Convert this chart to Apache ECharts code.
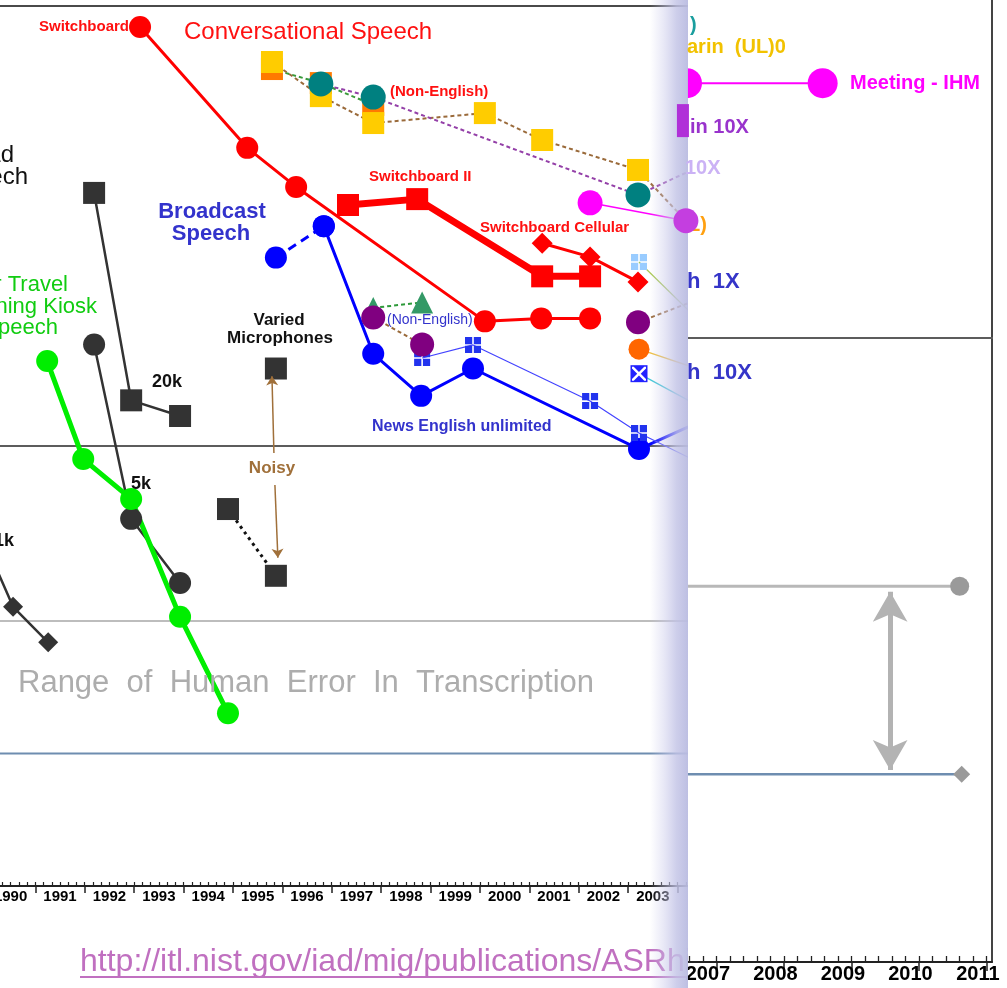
<!DOCTYPE html>
<html>
<head>
<meta charset="utf-8">
<script src="https://cdn.jsdelivr.net/npm/echarts@6/dist/echarts.min.js"></script>
<style>
  html, body { margin: 0; padding: 0; background: #fff; }
  #chart { width: 1007px; height: 988px; }
</style>
</head>
<body>
<div id="chart"></div>
<script>
// ---------- Left panel: word error rate (%) per benchmark, 1990-2004 ----------
const readSpeech20k = [[1992.19, 37.6], [1992.94, 12.7], [1993.93, 11.7]];
const readSpeech5k  = [[1992.19, 17.0], [1992.94, 6.83], [1993.93, 4.88]];
const readSpeech1k  = [[1989.58, 7.66], [1990.55, 4.31], [1991.26, 3.58]];
const atisKiosk     = [[1991.24, 15.6], [1991.97, 9.34], [1992.94, 7.58], [1993.93, 4.09], [1994.90, 2.47]];
const variedMics    = [[1995.87, 15.0]];
const noisyMics     = [[1994.90, 7.19], [1995.87, 5.07]];
const noisyArrowUp   = [[1995.83, 9.64], [1995.79, 14.4]];
const noisyArrowDown = [[1995.85, 8.15], [1995.91, 5.57]];

const switchboard         = [[1993.12, 89.6], [1995.29, 47.6], [1996.28, 38.8], [2000.10, 19.2], [2001.24, 19.5], [2002.23, 19.5]];
const switchboardII       = [[1997.33, 35.3], [1998.73, 36.4], [2001.26, 24.3], [2002.23, 24.3]];
const switchboardCellular = [[2001.26, 28.9], [2002.23, 26.9], [2003.20, 23.6]];

const broadcastEarly = [[1995.87, 26.8], [1996.84, 31.6]];
const broadcast      = [[1996.84, 31.6], [1997.84, 16.2], [1998.81, 13.0], [1999.86, 15.0], [2003.22, 9.84], [2004.64, 11.6]];
const newsUnlimited  = [[1998.83, 15.85], [1999.86, 16.97], [2002.23, 12.65], [2003.22, 10.70], [2004.86, 8.69]];

const ctsOrange   = [[1995.79, 71.9], [1996.78, 66.8], [1997.84, 59.6]];
const ctsMandarin = [[1995.79, 74.6], [1996.78, 62.4], [1997.84, 54.2], [2000.10, 57.1], [2001.26, 49.6], [2003.20, 42.4], [2004.17, 32.5]];
const ctsTeal     = [[1996.78, 66.5], [1997.84, 62.1], [2003.20, 37.2], [2004.64, 44.2]];
const ctsMagenta  = [[2002.23, 35.7], [2004.17, 32.5]];
const ctsArabic   = [[2004.17, 32.5]];

const bnTriangles = [[1997.84, 20.6], [1998.83, 21.2]];
const bnPurple    = [[1997.84, 19.6], [1998.83, 17.0]];
const purple2003    = [[2003.20, 19.1], [2004.86, 22.5]];
const orange2003    = [[2003.22, 16.6], [2004.86, 14.4]];
const crossBox2003  = [[2003.22, 14.6], [2004.86, 11.6]];
const lightBlue2003 = [[2003.22, 26.2], [2004.86, 17.3]];

// reference error levels (10 %, 4 %, 2 %)
const refLevels = [10, 4, 2];

// ---------- Right panel: 2007-2011 ----------
const meetingIHM   = [[2006.56, 25.6], [2008.57, 25.6]];
const mandarin10x  = [[2006.50, 22.3]];
const refEndRight  = [2011.30, 2010.60, 2010.63];
const humanRangeYear = 2009.57;
const humanRange     = [3.92, 2.03];

// axis tick labels
const leftYears  = [1990, 1991, 1992, 1993, 1994, 1995, 1996, 1997, 1998, 1999, 2000, 2001, 2002, 2003];
const rightYears = [2007, 2008, 2009, 2010, 2011];

// ---------- axis extents ----------
const L_MIN = 1990.285, L_MAX = 2004.212;
const R_MIN = 2006.575, R_MAX = 2011.079, R_YMAX = 34.8;

const SANS = '"Liberation Sans", Arial, Helvetica, sans-serif';

function subTicks(min, max, perYear) {
  const out = [];
  for (let t = Math.ceil(min * perYear); t <= Math.floor(max * perYear); t++) out.push(t / perYear);
  return out;
}

const chart = echarts.init(document.getElementById('chart'), null, { renderer: 'canvas' });

function line(name, data, color, extra) {
  return Object.assign({
    type: 'line', name, data,
    xAxisIndex: 0, yAxisIndex: 0,
    symbol: 'circle', symbolSize: 22,
    itemStyle: { color },
    lineStyle: { color, width: 3 },
    emphasis: { disabled: true },
    silent: true, animation: false, z: 2
  }, extra || {});
}
const firstOnly = (shape) => (v, p) => (p.dataIndex === 0 ? shape : 'none');
const allButLast = (shape, n) => (v, p) => (p.dataIndex === n - 1 ? 'none' : shape);
const lastOnly = (shape, n) => (v, p) => (p.dataIndex === n - 1 ? shape : 'none');

const WINDOW = 'path://M0,0h9v9h-9z M11,0h9v9h-9z M0,11h9v9h-9z M11,11h9v9h-9z';
const XMARK = 'path://M0,0 L2.5,0 L10,7.5 L17.5,0 L20,0 L20,2.5 L12.5,10 L20,17.5 L20,20 L17.5,20 L10,12.5 L2.5,20 L0,20 L0,17.5 L7.5,10 L0,2.5 Z';
// circle cut by the panel edge: only its right half is visible
const RIGHT_HALF = 'path://M-15,0 L-15,0 M0,0 A15,15 0 0,1 0,30 Z M-15,30 L-15,30';
const dark = '#333333';
const brown = '#9a6a3a';
const refColors = ['#5c5c5c', '#bdbdbd', '#6e8db0'];

const series = [];

// reference lines, left panel
refLevels.forEach((v, i) => {
  series.push(line('ref' + v, [[L_MIN, v], [L_MAX, v]], refColors[i], { symbol: 'none', lineStyle: { color: refColors[i], width: 2 }, z: 1 }));
});

// read speech
series.push(line('Read 20k', readSpeech20k, dark, { symbol: 'rect', lineStyle: { color: dark, width: 2.5 } }));
series.push(line('Read 5k', readSpeech5k, dark, { lineStyle: { color: dark, width: 2.5 } }));
series.push(line('Read 1k', readSpeech1k, dark, { symbol: 'diamond', symbolSize: 20, lineStyle: { color: dark, width: 2.5 } }));
// air travel kiosk
series.push(line('ATIS', atisKiosk, '#00ee00', { lineStyle: { color: '#00ee00', width: 5 } }));
// varied / noisy microphones
series.push(line('Noisy', noisyMics, dark, { symbol: 'rect', lineStyle: { color: '#111', width: 3, type: [3, 4] } }));
series.push(line('Varied', variedMics, dark, {
  symbol: 'rect',
  markLine: {
    silent: true, animation: false,
    symbol: ['none', 'arrow'], symbolSize: 9,
    label: { show: false },
    lineStyle: { color: '#a0703a', width: 1.5, type: 'solid' },
    emphasis: { disabled: true },
    data: [
      [{ coord: noisyArrowUp[0] }, { coord: noisyArrowUp[1] }],
      [{ coord: noisyArrowDown[0] }, { coord: noisyArrowDown[1] }]
    ]
  }
}));

// conversational speech
series.push(line('Switchboard', switchboard, '#ff0000'));
series.push(line('Switchboard II', switchboardII, '#ff0000', { symbol: 'rect', lineStyle: { color: '#ff0000', width: 7 } }));
series.push(line('Switchboard Cellular', switchboardCellular, '#ff0000', { symbol: 'diamond', symbolSize: 21 }));

// broadcast speech
series.push(line('Broadcast early', broadcastEarly, '#0000ff', { lineStyle: { color: '#0000ff', width: 3, type: [9, 6] } }));
series.push(line('Broadcast', broadcast, '#0000ff'));
series.push(line('News English unlimited', newsUnlimited, '#2233ee', { symbol: WINDOW, symbolSize: 16, lineStyle: { color: '#4444ff', width: 1.2 } }));

// non-English conversational speech
series.push(line('CTS orange', ctsOrange, '#ff7a00', { symbol: 'rect', lineStyle: { color: '#3a9a3a', width: 2, type: [4, 3] } }));
series.push(line('CTS Mandarin', ctsMandarin, '#ffcc00', { symbol: allButLast('rect', ctsMandarin.length), lineStyle: { color: brown, width: 2, type: [4, 3] } }));
series.push(line('CTS teal', ctsTeal, '#008080', { symbolSize: 25, lineStyle: { color: '#9440a8', width: 2, type: [4, 3] } }));
series.push(line('CTS magenta', ctsMagenta, '#ff00ff', { symbol: firstOnly('circle'), symbolSize: 25, lineStyle: { color: '#ff00ff', width: 1.5 } }));
series.push(line('CTS Arabic', ctsArabic, '#c43ee0', { symbolSize: 25, z: 30 }));

// broadcast news, non-English
series.push(line('BN triangles', bnTriangles, '#339966', { symbol: 'triangle', symbolSize: 22, lineStyle: { color: '#2e9a3a', width: 2, type: [4, 3] } }));
series.push(line('BN purple', bnPurple, '#800080', { symbolSize: 24, lineStyle: { color: brown, width: 2, type: [4, 3] } }));

// 2003 single evaluations and their continuations
series.push(line('2003 purple', purple2003, '#800080', { symbol: firstOnly('circle'), symbolSize: 24, lineStyle: { color: brown, width: 2, type: [4, 3] } }));
series.push(line('2003 orange', orange2003, '#ff6600', { symbol: firstOnly('circle'), symbolSize: 21, lineStyle: { color: '#f0c040', width: 1.3 } }));
series.push(line('2003 cross box', crossBox2003, '#2222ff', { symbol: firstOnly('rect'), symbolSize: 17, lineStyle: { color: '#40c6d6', width: 1.3 } }));
series.push(line('2003 cross box mark', crossBox2003.slice(0, 1), '#ffffff', { symbol: XMARK, symbolSize: 14, lineStyle: { width: 0 } }));
series.push(line('2003 light blue', lightBlue2003, '#99ccff', { symbol: firstOnly(WINDOW), symbolSize: 16, lineStyle: { color: '#a8c850', width: 1.2 } }));

// ---------- right panel series ----------
const R = { xAxisIndex: 3, yAxisIndex: 1, clip: false, z: 15 };
series.push(line('ref10 right', [[R_MIN, refLevels[0]], [refEndRight[0], refLevels[0]]], '#5c5c5c', Object.assign({}, R, { symbol: 'none', lineStyle: { color: '#5c5c5c', width: 2 } })));
series.push(line('ref4 right', [[R_MIN, refLevels[1]], [refEndRight[1], refLevels[1]]], '#9a9a9a', Object.assign({}, R, { symbol: lastOnly('circle', 2), symbolSize: 19, lineStyle: { color: '#b8b8b8', width: 3 } })));
series.push(line('ref2 right', [[R_MIN, refLevels[2]], [refEndRight[2], refLevels[2]]], '#9a9a9a', Object.assign({}, R, {
  symbol: lastOnly('diamond', 2), symbolSize: 17, lineStyle: { color: '#6e8db0', width: 2.5 },
  markLine: {
    silent: true, animation: false, z: 20,
    symbol: ['arrow', 'arrow'], symbolSize: [26, 30],
    label: { show: false },
    lineStyle: { color: '#b3b3b3', width: 5, type: 'solid' },
    emphasis: { disabled: true },
    data: [[{ coord: [humanRangeYear, humanRange[0]] }, { coord: [humanRangeYear, humanRange[1]] }]]
  }
})));
series.push(line('Meeting - IHM', meetingIHM, '#ff00ff', Object.assign({}, R, {
  symbol: (v, p) => (p.dataIndex === 0 ? RIGHT_HALF : 'circle'),
  symbolSize: 30, lineStyle: { color: '#ff00ff', width: 2 }
})));
series.push(line('Mandarin 10X', mandarin10x, '#b030d8', Object.assign({}, R, { symbol: 'rect', symbolSize: [12, 33], z: 30 })));

// ---------- text annotations ----------
function txt(x, y, text, font, fill, align, z) {
  return {
    type: 'text', x, y, z: z == null ? 5 : z, silent: true,
    style: {
      text, font, fill,
      align: align || 'left', textAlign: align || 'left',
      verticalAlign: 'middle', textVerticalAlign: 'middle'
    }
  };
}
const f = (size, bold) => (bold ? 'bold ' : '') + size + 'px ' + SANS;
const RED = '#ff1010', BLUE = '#3333cc';

const graphics = [
  // left panel labels
  txt(129, 27, 'Switchboard', f(15, true), RED, 'right'),
  txt(184, 32, 'Conversational Speech', f(24), RED),
  txt(390, 92, '(Non-English)', f(15, true), RED),
  txt(369, 177, 'Switchboard II', f(15, true), RED),
  txt(480, 228, 'Switchboard Cellular', f(15, true), RED),
  txt(212, 212, 'Broadcast', f(22, true), BLUE, 'center'),
  txt(211, 234, 'Speech', f(22, true), BLUE, 'center'),
  txt(387, 320, '(Non-English)', f(14), BLUE),
  txt(372, 427, 'News English unlimited', f(16, true), BLUE),
  txt(279, 320, 'Varied', f(17, true), '#111', 'center'),
  txt(280, 338, 'Microphones', f(17, true), '#111', 'center'),
  txt(152, 382, '20k', f(18, true), '#111'),
  txt(131, 484, '5k', f(18, true), '#111'),
  txt(14, 541, '1k', f(18, true), '#111', 'right'),
  txt(272, 468, 'Noisy', f(17, true), '#a0703a', 'center'),
  txt(14, 155, 'Read', f(24), '#111', 'right'),
  txt(28, 177, 'Speech', f(24), '#111', 'right'),
  txt(68, 285, 'Air Travel', f(22), '#11cc11', 'right'),
  txt(97, 307, 'Planning Kiosk', f(22), '#11cc11', 'right'),
  txt(58, 328, 'Speech', f(22), '#11cc11', 'right'),
  txt(18, 683, 'Range  of  Human  Error  In  Transcription', f(31), '#adadad'),
  txt(80, 962, 'http://itl.nist.gov/iad/mig/publications/ASRhistory/index.html', f(32), '#c070c0', 'left', 3),
  { type: 'line', z: 3, silent: true, shape: { x1: 80, y1: 977, x2: 720, y2: 977 }, style: { stroke: '#c070c0', lineWidth: 2 } },

  // right panel background and the shaded fold
  { type: 'rect', z: 10, silent: true, shape: { x: 688, y: 0, width: 319, height: 988 }, style: { fill: '#ffffff' } },
  {
    type: 'rect', z: 25, silent: true, shape: { x: 650, y: 0, width: 38, height: 988 },
    style: {
      fill: {
        type: 'linear', x: 0, y: 0, x2: 1, y2: 0,
        colorStops: [
          { offset: 0, color: 'rgba(200,200,234,0)' },
          { offset: 0.35, color: 'rgba(200,200,234,0.4)' },
          { offset: 0.7, color: 'rgba(194,195,230,0.82)' },
          { offset: 1, color: 'rgba(186,188,225,0.96)' }
        ]
      }
    }
  },

  // right panel labels
  txt(690, 25, ')', f(20, true), '#1a9e9e', 'left', 30),
  txt(687, 47, 'arin  (UL)0', f(20, true), '#f2c200', 'left', 30),
  txt(850, 83, 'Meeting - IHM', f(20, true), '#ff00ff', 'left', 30),
  txt(690, 127, 'in 10X', f(20, true), '#9933cc', 'left', 30),
  txt(685, 168, '10X', f(20, true), '#cbb2f5', 'left', 30),
  txt(688, 225, 'L)', f(20, true), '#ffa010', 'left', 30),
  txt(687, 282, 'h  1X', f(22, true), '#3535c8', 'left', 30),
  txt(687, 373, 'h  10X', f(22, true), '#3535c8', 'left', 30)
];

const option = {
  backgroundColor: '#ffffff',
  animation: false,
  grid: [
    { left: 0, top: 6, width: 688, height: 880, containLabel: false, outerBoundsMode: 'none' },
    { left: 688, top: 0, width: 304, height: 962, containLabel: false, outerBoundsMode: 'none' }
  ],
  xAxis: [
    { // left: year labels and outer ticks
      gridIndex: 0, type: 'value', min: L_MIN, max: L_MAX, position: 'bottom',
      axisLine: { show: true, lineStyle: { color: '#222', width: 2 } },
      axisTick: { show: true, inside: false, length: 7, customValues: leftYears.map(y => y + 1), lineStyle: { color: '#222', width: 1.5 } },
      axisLabel: {
        show: true, customValues: leftYears.map(y => y + 0.5),
        formatter: v => String(Math.floor(v + 1e-6)),
        margin: 3, fontFamily: SANS, fontWeight: 'bold', fontSize: 15, color: '#000'
      },
      splitLine: { show: false }
    },
    { // left: inner ticks (monthly)
      gridIndex: 0, type: 'value', min: L_MIN, max: L_MAX, position: 'bottom',
      axisLine: { show: false },
      axisTick: { show: true, inside: true, length: 4, customValues: subTicks(L_MIN, L_MAX, 6), lineStyle: { color: '#222', width: 1.2 } },
      axisLabel: { show: false }, splitLine: { show: false }
    },
    { // left: top frame
      gridIndex: 0, type: 'value', min: L_MIN, max: L_MAX, position: 'top',
      axisLine: { show: true, lineStyle: { color: '#4a4a4a', width: 2 } },
      axisTick: { show: false }, axisLabel: { show: false }, splitLine: { show: false }
    },
    { // right: year labels and outer ticks
      gridIndex: 1, type: 'value', min: R_MIN, max: R_MAX, position: 'bottom', z: 12,
      axisLine: { show: true, lineStyle: { color: '#222', width: 2 } },
      axisTick: { show: true, inside: false, length: 9, customValues: rightYears, lineStyle: { color: '#222', width: 1.5 } },
      axisLabel: {
        show: true, customValues: rightYears.map(y => y - 0.13),
        formatter: v => String(Math.round(v)),
        margin: 2, fontFamily: SANS, fontWeight: 'bold', fontSize: 20, color: '#000'
      },
      splitLine: { show: false }
    },
    { // right: inner ticks
      gridIndex: 1, type: 'value', min: R_MIN, max: R_MAX, position: 'bottom', z: 12,
      axisLine: { show: false },
      axisTick: { show: true, inside: true, length: 6, customValues: subTicks(R_MIN, R_MAX, 5), lineStyle: { color: '#222', width: 1.3 } },
      axisLabel: { show: false }, splitLine: { show: false }
    }
  ],
  yAxis: [
    { gridIndex: 0, type: 'log', logBase: 10, min: 1, max: 100, show: false },
    {
      gridIndex: 1, type: 'log', logBase: 10, min: 1, max: R_YMAX, position: 'right', z: 12,
      axisLine: { show: true, lineStyle: { color: '#444', width: 2 } },
      axisTick: { show: false }, axisLabel: { show: false }, splitLine: { show: false }
    }
  ],
  graphic: { elements: graphics },
  series
};

chart.setOption(option);
</script>
</body>
</html>
